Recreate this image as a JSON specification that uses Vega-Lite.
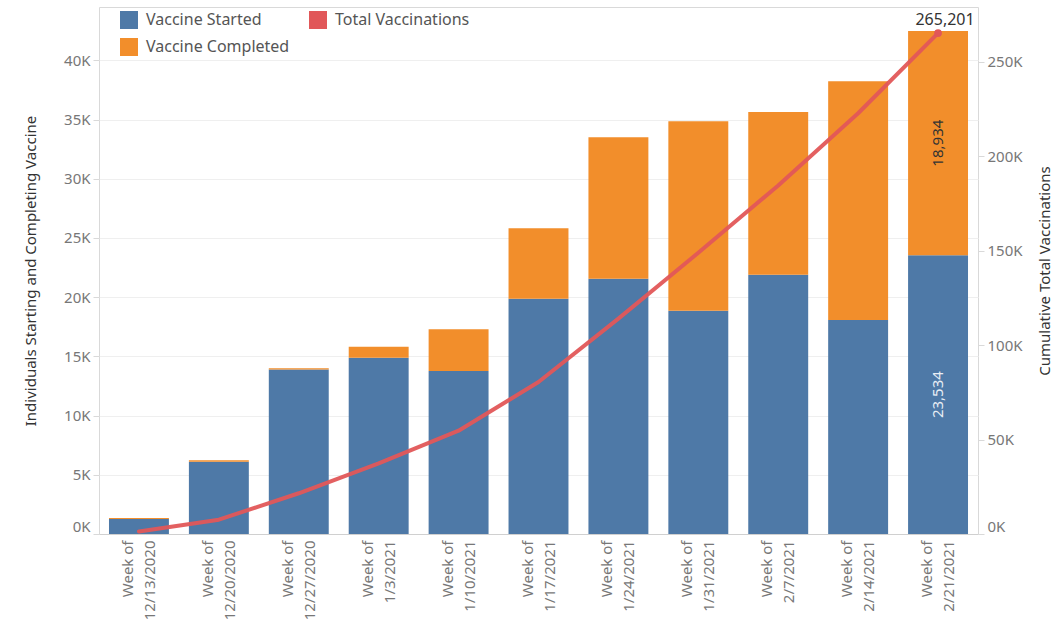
{
  "$schema": "https://vega.github.io/schema/vega-lite/v6.json",
  "width": 879,
  "height": 527,
  "autosize": {"type": "none"},
  "padding": {"left": 99, "top": 7, "right": 86, "bottom": 101},
  "background": "white",
  "config": {
    "font": "Noto Sans",
    "view": {"stroke": "#d9d9d9", "strokeWidth": 1},
    "axis": {
      "labelFont": "Noto Sans",
      "titleFont": "Noto Sans",
      "labelColor": "#777777",
      "titleColor": "#333333",
      "labelFontSize": 15,
      "titleFontSize": 15,
      "titleFontWeight": "normal",
      "domainColor": "#d0d0d0",
      "tickColor": "#d9d9d9",
      "gridColor": "#efefef"
    },
    "legend": {
      "labelFont": "Noto Sans",
      "labelFontSize": 16,
      "labelColor": "#555555"
    }
  },
  "datasets": {
    "bars": [
      {"week": "12/13/2020", "series": "Vaccine Started", "value": 1270},
      {"week": "12/13/2020", "series": "Vaccine Completed", "value": 80},
      {"week": "12/20/2020", "series": "Vaccine Started", "value": 6110},
      {"week": "12/20/2020", "series": "Vaccine Completed", "value": 110},
      {"week": "12/27/2020", "series": "Vaccine Started", "value": 13880},
      {"week": "12/27/2020", "series": "Vaccine Completed", "value": 120},
      {"week": "1/3/2021", "series": "Vaccine Started", "value": 14890},
      {"week": "1/3/2021", "series": "Vaccine Completed", "value": 930},
      {"week": "1/10/2021", "series": "Vaccine Started", "value": 13770},
      {"week": "1/10/2021", "series": "Vaccine Completed", "value": 3520},
      {"week": "1/17/2021", "series": "Vaccine Started", "value": 19870},
      {"week": "1/17/2021", "series": "Vaccine Completed", "value": 5950},
      {"week": "1/24/2021", "series": "Vaccine Started", "value": 21560},
      {"week": "1/24/2021", "series": "Vaccine Completed", "value": 11950},
      {"week": "1/31/2021", "series": "Vaccine Started", "value": 18860},
      {"week": "1/31/2021", "series": "Vaccine Completed", "value": 16000},
      {"week": "2/7/2021", "series": "Vaccine Started", "value": 21900},
      {"week": "2/7/2021", "series": "Vaccine Completed", "value": 13740},
      {"week": "2/14/2021", "series": "Vaccine Started", "value": 18070},
      {"week": "2/14/2021", "series": "Vaccine Completed", "value": 20153},
      {"week": "2/21/2021", "series": "Vaccine Started", "value": 23534},
      {"week": "2/21/2021", "series": "Vaccine Completed", "value": 18934}
    ],
    "line": [
      {"week": "12/13/2020", "total": 1350},
      {"week": "12/20/2020", "total": 7570},
      {"week": "12/27/2020", "total": 21570},
      {"week": "1/3/2021", "total": 37390},
      {"week": "1/10/2021", "total": 54680},
      {"week": "1/17/2021", "total": 80500},
      {"week": "1/24/2021", "total": 114010},
      {"week": "1/31/2021", "total": 148870},
      {"week": "2/7/2021", "total": 184510},
      {"week": "2/14/2021", "total": 222733},
      {"week": "2/21/2021", "total": 265201}
    ]
  },
  "encoding": {
    "x": {
      "field": "week",
      "type": "nominal",
      "sort": null,
      "title": null,
      "scale": {"paddingInner": 0.25, "paddingOuter": 0.125},
      "axis": {
        "labelAngle": 270,
        "labelAlign": "right",
        "labelBaseline": "middle",
        "labelLineHeight": 22,
        "labelPadding": 6,
        "labelOffset": -11,
        "ticks": false,
        "labelExpr": "['Week of', datum.label]"
      }
    }
  },
  "layer": [
    {
      "data": {"name": "bars"},
      "layer": [
        {
          "mark": {"type": "bar"},
          "encoding": {
            "y": {
              "field": "value",
              "type": "quantitative",
              "stack": "zero",
              "title": "Individuals Starting and Completing Vaccine",
              "scale": {"domain": [0, 44500], "nice": false},
              "axis": {
                "values": [0, 5000, 10000, 15000, 20000, 25000, 30000, 35000, 40000],
                "labelExpr": "datum.value / 1000 + 'K'",
                "grid": true,
                "tickSize": 6,
                "labelPadding": 3,
                "titlePadding": 25,
                "labelFlush": true,
                "domain": false
              }
            },
            "color": {
              "field": "series",
              "type": "nominal",
              "scale": {
                "domain": ["Vaccine Started", "Vaccine Completed", "Total Vaccinations"],
                "range": ["#4e79a7", "#f28e2b", "#e15759"]
              },
              "legend": {
                "title": null,
                "orient": "none",
                "legendX": 21,
                "legendY": 4,
                "columns": 2,
                "columnPadding": 19,
                "rowPadding": 9,
                "symbolType": "square",
                "symbolSize": 324,
                "symbolStrokeWidth": 0,
                "labelOffset": 8
              }
            },
            "order": {"field": "series", "sort": "descending"}
          }
        },
        {
          "transform": [
            {"filter": "datum.week === '2/21/2021'"},
            {"stack": "value", "groupby": ["week"], "sort": [{"field": "series", "order": "descending"}], "as": ["y0", "y1"]},
            {"fold": ["y0", "y1"], "as": ["edge", "pos"]},
            {"aggregate": [{"op": "mean", "field": "pos", "as": "mid"}], "groupby": ["week", "series", "value"]}
          ],
          "mark": {"type": "text", "angle": 270, "fontSize": 15, "align": "center", "baseline": "middle"},
          "encoding": {
            "y": {"field": "mid", "type": "quantitative"},
            "text": {"field": "value", "type": "quantitative", "format": ","},
            "color": {
              "condition": {"test": "datum.series === 'Vaccine Started'", "value": "#e8eef5"},
              "value": "#333333"
            }
          }
        }
      ]
    },
    {
      "data": {"name": "line"},
      "layer": [
        {
          "mark": {"type": "line", "color": "#e15759", "strokeWidth": 4, "strokeCap": "round", "strokeJoin": "round", "opacity": 0.95},
          "encoding": {
            "y": {
              "field": "total",
              "type": "quantitative",
              "title": "Cumulative Total Vaccinations",
              "scale": {"domain": [0, 279000], "nice": false},
              "axis": {
                "orient": "right",
                "values": [0, 50000, 100000, 150000, 200000, 250000],
                "labelExpr": "datum.value / 1000 + 'K'",
                "grid": false,
                "tickSize": 6,
                "labelPadding": 3,
                "titlePadding": 30,
                "titleAngle": 270,
                "labelFlush": true,
                "domain": false
              }
            }
          }
        },
        {
          "transform": [{"filter": "datum.week === '2/21/2021'"}],
          "mark": {"type": "point", "filled": true, "color": "#e15759", "size": 60, "opacity": 1},
          "encoding": {"y": {"field": "total", "type": "quantitative"}}
        },
        {
          "transform": [{"filter": "datum.week === '2/21/2021'"}],
          "mark": {"type": "text", "fontSize": 16, "color": "#333333", "baseline": "bottom", "dy": -5, "dx": 7},
          "encoding": {
            "y": {"field": "total", "type": "quantitative"},
            "text": {"field": "total", "type": "quantitative", "format": ","}
          }
        }
      ]
    }
  ],
  "resolve": {"scale": {"y": "independent"}}
}
